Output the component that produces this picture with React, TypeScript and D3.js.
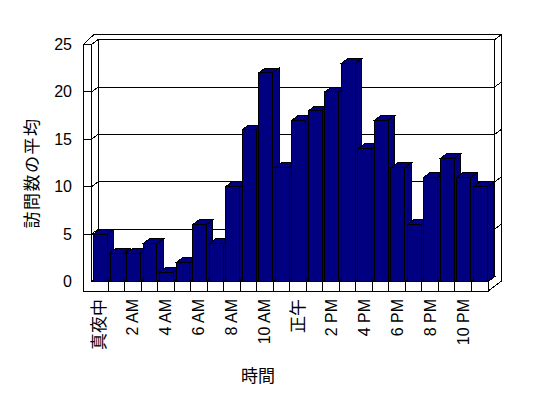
import * as d3 from 'd3';

// 時間帯ごとの訪問数の平均 (0時〜23時)
const HOURS = d3.range(24);
const VISITS = [5, 3, 3, 4, 1, 2, 6, 4, 10, 16, 22, 12, 17, 18, 20, 23, 14, 17, 12, 6, 11, 13, 11, 10];
const HOUR_LABELS = ['真夜中', '2 AM', '4 AM', '6 AM', '8 AM', '10 AM', '正午', '2 PM', '4 PM', '6 PM', '8 PM', '10 PM'];
const Y_TICKS = [0, 5, 10, 15, 20, 25];

const W = 548;
const H = 398;
const plotL = 91.5;
const plotR = 488;
const wallT = 8; // left wall front thickness
const floorT = 9.5;
const DX = 6.5;
const DY = -4.8;
const BAR = '#000080';
const FONT = '"Liberation Sans", Arial, "Noto Sans CJK JP", sans-serif';

const pts = (p: [number, number][]) => p.map((d) => d.join(',')).join(' ');

export default function App() {
  const x = d3.scaleBand<number>().domain(HOURS).range([plotL, plotR]).padding(0);
  const y = d3.scaleLinear().domain([0, 25]).range([281.5, 44.5]);
  const bw = x.bandwidth();
  const y0 = y(0);
  const yTop = y(25);
  const outerL = plotL - wallT;
  const floorB = y0 + floorT;

  const grid = Y_TICKS.filter((v) => v > 0 && v < 25);

  return (
    <div style={{ position: 'fixed', left: 0, top: 0 }}>
      <svg width={W} height={H} style={{ display: 'block', background: '#fff' }} shapeRendering="crispEdges">
        <g fill="#fff" stroke="#000" strokeWidth={1}>
          {/* top of back slab + left wall */}
          <polygon
            points={pts([
              [outerL, yTop],
              [plotL, yTop],
              [plotL + DX, yTop + DY],
              [plotR + DX, yTop + DY],
              [plotR + 2 * DX, yTop + 2 * DY],
              [outerL + 10, yTop + 2 * DY],
            ])}
          />
          {/* right side of back slab + floor */}
          <polygon
            points={pts([
              [plotR, y0],
              [plotR, floorB],
              [plotR + 2 * DX, floorB + 2 * DY],
              [plotR + 2 * DX, yTop + 2 * DY],
              [plotR + DX, yTop + DY],
              [plotR + DX, y0 + DY],
            ])}
          />
          {/* back wall */}
          <rect x={plotL + DX} y={yTop + DY} width={plotR - plotL} height={y0 - yTop} />
          {/* left wall inner face */}
          <polygon
            points={pts([
              [plotL, yTop],
              [plotL + DX, yTop + DY],
              [plotL + DX, y0 + DY],
              [plotL, y0],
            ])}
          />
          {/* floor top */}
          <polygon
            points={pts([
              [plotL, y0],
              [plotR, y0],
              [plotR + DX, y0 + DY],
              [plotL + DX, y0 + DY],
            ])}
          />
          {/* front face of left wall + floor */}
          <polygon
            points={pts([
              [outerL, yTop],
              [plotL, yTop],
              [plotL, y0],
              [plotR, y0],
              [plotR, floorB],
              [outerL, floorB],
            ])}
          />
        </g>

        {/* gridlines and ticks */}
        <g stroke="#000" strokeWidth={1} fill="none">
          {grid.map((v) => (
            <g key={v}>
              <line x1={outerL} x2={plotL} y1={y(v)} y2={y(v)} />
              <line x1={plotL} x2={plotL + DX} y1={y(v)} y2={y(v) + DY} />
              <line x1={plotL + DX} x2={plotR + DX} y1={y(v) + DY} y2={y(v) + DY} />
              <line x1={plotR + DX} x2={plotR + 2 * DX} y1={y(v) + DY} y2={y(v) + 2 * DY} />
            </g>
          ))}
          {HOURS.slice(1).map((h) => (
            <line key={h} x1={x(h)!} x2={x(h)!} y1={y0} y2={floorB} />
          ))}
        </g>

        {/* bars */}
        <g fill={BAR} stroke="#000" strokeWidth={1}>
          {HOURS.map((h, i) => {
            const bx = x(h)! + bw * 0.12;
            const w = bw * 0.84;
            const t = y(VISITS[i]);
            return (
              <g key={h}>
                <polygon
                  points={pts([
                    [bx + w, t],
                    [bx + w + DX, t + DY],
                    [bx + w + DX, y0 + DY],
                    [bx + w, y0],
                  ])}
                />
                <polygon
                  points={pts([
                    [bx, t],
                    [bx + DX, t + DY],
                    [bx + w + DX, t + DY],
                    [bx + w, t],
                  ])}
                />
                <rect x={bx} y={t} width={w} height={y0 - t} />
              </g>
            );
          })}
        </g>

        {/* y axis labels */}
        <g fontFamily={FONT} fontSize={16} fill="#000">
          {Y_TICKS.map((v) => (
            <text key={v} x={72} y={y(v)} textAnchor="end" dominantBaseline="central">
              {v}
            </text>
          ))}
          {HOURS.filter((h) => h % 2 === 0).map((h, i) => {
            const cx = x(h)! + bw / 2;
            const label = HOUR_LABELS[i];
            const cjk = /[^\x00-\x7f]/.test(label);
            return (
              <text
                key={h}
                transform={`translate(${cx},299) rotate(-90)`}
                textAnchor="end"
                dominantBaseline="central"
                fontSize={cjk ? 17 : 16}
              >
                {label}
              </text>
            );
          })}
          <text x={258} y={376} textAnchor="middle" dominantBaseline="central" fontSize={17}>
            時間
          </text>
          <text
            transform="translate(32,173) rotate(-90)"
            textAnchor="middle"
            dominantBaseline="central"
            fontSize={17}
            letterSpacing={1.5}
          >
            訪問数の平均
          </text>
        </g>
      </svg>
    </div>
  );
}
